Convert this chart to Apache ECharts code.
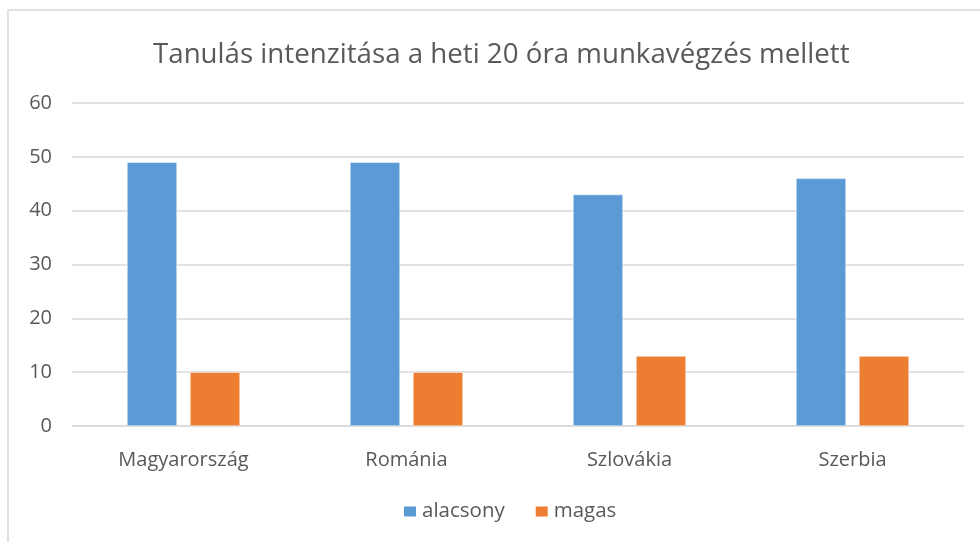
<!DOCTYPE html>
<html>
<head>
<meta charset="utf-8">
<script src="https://cdn.jsdelivr.net/npm/echarts@6/dist/echarts.min.js"></script>
<style>
  html, body { margin: 0; padding: 0; background: #fff; }
  #chart { width: 980px; height: 542px; }
</style>
</head>
<body>
<div id="chart"></div>
<script>
const categories = ['Magyarország', 'Románia', 'Szlovákia', 'Szerbia']
const alacsony = [49, 49, 43, 46]
const magas = [10, 10, 13, 13]
const yTicks = { min: 0, max: 60, interval: 10 }

const font = 'Open Sans'
const textColor = '#595959'

const chart = echarts.init(document.getElementById('chart'))

const option = {
  backgroundColor: '#fff',
  animation: false,
  title: {
    text: 'Tanulás intenzitása a heti 20 óra munkavégzés mellett',
    left: 148,
    top: 36,
    textStyle: {
      fontFamily: font,
      fontSize: 27.7,
      fontWeight: 'normal',
      color: textColor,
    },
  },
  graphic: [
    {
      type: 'rect',
      shape: { x: 8, y: 10, width: 990, height: 560 },
      style: { fill: 'none', stroke: '#d9d9d9', lineWidth: 1.5 },
      silent: true,
    },
  ],
  legend: {
    bottom: 15,
    left: 397,
    itemWidth: 14,
    itemHeight: 12,
    itemGap: 29,
    icon: 'rect',
    textStyle: { fontFamily: font, fontSize: 20.5, color: textColor },
    data: ['alacsony', 'magas'],
  },
  grid: {
    left: 72,
    right: 16,
    top: 103,
    bottom: 116,
  },
  xAxis: {
    type: 'category',
    data: categories,
    axisTick: { show: false },
    axisLine: { lineStyle: { color: '#d9d9d9', width: 1.5 } },
    axisLabel: {
      fontFamily: font,
      fontSize: 20,
      color: textColor,
      margin: 24,
    },
  },
  yAxis: {
    type: 'value',
    min: yTicks.min,
    max: yTicks.max,
    interval: yTicks.interval,
    axisLine: { show: false },
    axisTick: { show: false },
    axisLabel: {
      fontFamily: font,
      fontSize: 20,
      color: textColor,
      margin: 20,
    },
    splitLine: { lineStyle: { color: '#d9d9d9', width: 1.5 } },
  },
  series: [
    {
      name: 'alacsony',
      type: 'bar',
      data: alacsony,
      barWidth: 50,
      barGap: '26%',
      itemStyle: { color: '#5b9bd5', borderColor: '#ffffff', borderWidth: 0.5 },
    },
    {
      name: 'magas',
      type: 'bar',
      data: magas,
      barWidth: 50,
      itemStyle: { color: '#ed7d31', borderColor: '#ffffff', borderWidth: 0.5 },
    },
  ],
}

chart.setOption(option)
</script>
</body>
</html>
